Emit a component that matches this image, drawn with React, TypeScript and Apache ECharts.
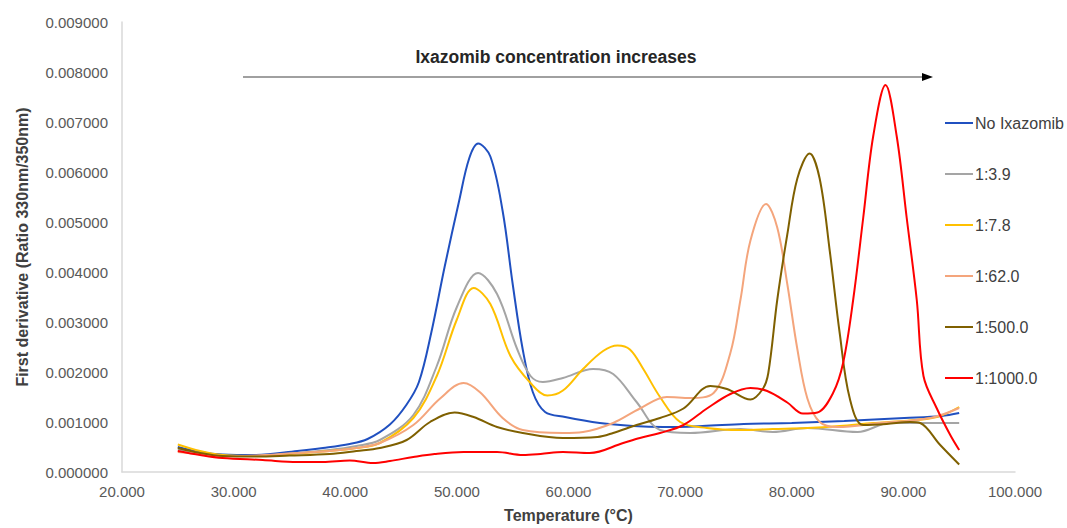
import React, { useEffect, useRef } from "react";
import * as echarts from "echarts";

const FONT = '"Liberation Sans", Arial, Helvetica, sans-serif';

const seriesNames = ["No Ixazomib", "1:3.9", "1:7.8", "1:62.0", "1:500.0", "1:1000.0"];
const seriesColors = ["#2050C0", "#A5A5A5", "#FFC000", "#F4A57C", "#7F6000", "#FF0000"];

const xTicks = [20, 30, 40, 50, 60, 70, 80, 90, 100];
const yTicks = [0, 0.001, 0.002, 0.003, 0.004, 0.005, 0.006, 0.007, 0.008, 0.009];

const noIxazomib: [number, number][] = [
  [25, 0.5e-3], [27, 0.4e-3], [29, 0.35e-3], [32, 0.34e-3], [35.7, 0.42e-3], [38, 0.48e-3],
  [40.4, 0.56e-3], [42, 0.66e-3], [44, 0.95e-3], [45.5, 1.35e-3], [46.6, 1.8e-3], [47.7, 2.78e-3],
  [48.9, 4.1e-3], [50.2, 5.42e-3], [51.1, 6.27e-3], [51.9, 6.57e-3], [53.0, 6.31e-3], [54.1, 5.22e-3],
  [55.0, 3.76e-3], [55.9, 2.45e-3], [56.8, 1.6e-3], [57.9, 1.2e-3], [59.7, 1.1e-3], [62.8, 0.98e-3],
  [65.8, 0.92e-3], [68.5, 0.9e-3], [72, 0.92e-3], [75.7, 0.96e-3], [80, 0.98e-3], [84.7, 1.02e-3],
  [90.1, 1.08e-3], [93.4, 1.12e-3], [95, 1.18e-3],
];

const ratio3_9: [number, number][] = [
  [25, 0.45e-3], [27, 0.38e-3], [29, 0.33e-3], [32, 0.32e-3], [35, 0.37e-3], [38.6, 0.44e-3],
  [41, 0.52e-3], [43.1, 0.64e-3], [46.1, 1.14e-3], [48.2, 2.12e-3], [50.0, 3.3e-3], [51.9, 3.98e-3],
  [53.6, 3.56e-3], [55.4, 2.46e-3], [56.6, 1.92e-3], [57.7, 1.8e-3], [59.5, 1.88e-3], [62.2, 2.06e-3],
  [64.0, 1.96e-3], [66.1, 1.4e-3], [68.2, 0.84e-3], [70.9, 0.78e-3], [75.4, 0.86e-3], [78.3, 0.8e-3],
  [81.4, 0.88e-3], [85.9, 0.8e-3], [88.8, 0.98e-3], [93, 0.98e-3], [95, 0.98e-3],
];

const ratio7_8: [number, number][] = [
  [25, 0.55e-3], [27, 0.42e-3], [29, 0.34e-3], [32, 0.32e-3], [35, 0.36e-3], [38.6, 0.42e-3],
  [41, 0.48e-3], [43.1, 0.58e-3], [46.1, 1.08e-3], [48.2, 1.92e-3], [50.0, 3.05e-3], [51.5, 3.68e-3],
  [53.0, 3.36e-3], [54.8, 2.32e-3], [56.6, 1.78e-3], [58.1, 1.53e-3], [59.5, 1.63e-3], [61.3, 2.06e-3],
  [63.1, 2.42e-3], [64.4, 2.53e-3], [65.5, 2.45e-3], [66.7, 2.06e-3], [68.2, 1.5e-3], [70.0, 1.0e-3],
  [72.4, 0.88e-3], [75.4, 0.84e-3], [78.3, 0.86e-3], [81.4, 0.88e-3], [84.3, 0.92e-3], [87.3, 0.98e-3],
  [90, 1.02e-3], [93, 1.1e-3], [95, 1.3e-3],
];

const ratio62_0: [number, number][] = [
  [25, 0.4e-3], [27, 0.36e-3], [29, 0.32e-3], [32, 0.33e-3], [35, 0.37e-3], [38.6, 0.42e-3],
  [41, 0.48e-3], [43.1, 0.58e-3], [46.1, 0.94e-3], [48.5, 1.47e-3], [50.6, 1.78e-3], [52.1, 1.59e-3],
  [54.1, 1.08e-3], [55.9, 0.84e-3], [59.5, 0.78e-3], [61.3, 0.8e-3], [64.0, 0.98e-3], [66.4, 1.27e-3],
  [68.8, 1.5e-3], [70.9, 1.48e-3], [73.0, 1.58e-3], [74.5, 2.38e-3], [75.4, 3.44e-3], [76.3, 4.63e-3],
  [77.7, 5.36e-3], [78.7, 4.89e-3], [79.6, 3.76e-3], [80.5, 2.46e-3], [81.4, 1.47e-3], [82.5, 1.0e-3],
  [84.1, 0.9e-3], [87.9, 0.98e-3], [92.4, 1.08e-3], [95, 1.28e-3],
];

const ratio500_0: [number, number][] = [
  [25, 0.48e-3], [27, 0.38e-3], [29, 0.32e-3], [32, 0.31e-3], [35, 0.33e-3], [38.6, 0.36e-3],
  [41, 0.42e-3], [43.1, 0.48e-3], [45.5, 0.64e-3], [47.6, 1.0e-3], [49.8, 1.19e-3], [51.5, 1.1e-3],
  [53.6, 0.9e-3], [55.9, 0.78e-3], [59.5, 0.68e-3], [62.6, 0.7e-3], [64.0, 0.78e-3], [66.1, 0.94e-3],
  [68.2, 1.08e-3], [70.3, 1.27e-3], [72.7, 1.72e-3], [74.2, 1.66e-3], [76.3, 1.45e-3], [77.4, 1.66e-3],
  [77.9, 1.98e-3], [78.7, 3.44e-3], [79.6, 4.75e-3], [80.5, 5.87e-3], [81.6, 6.37e-3], [82.5, 5.87e-3],
  [83.4, 4.43e-3], [84.3, 2.77e-3], [85.2, 1.47e-3], [86.4, 0.94e-3], [88.5, 0.96e-3], [90.6, 1.0e-3],
  [91.5, 0.98e-3], [93.3, 0.54e-3], [95, 0.15e-3],
];

const ratio1000_0: [number, number][] = [
  [25, 0.42e-3], [27, 0.34e-3], [29, 0.28e-3], [32.6, 0.24e-3], [35.7, 0.2e-3], [38, 0.2e-3],
  [40.4, 0.23e-3], [42.5, 0.18e-3], [44, 0.22e-3], [46.1, 0.3e-3], [48, 0.36e-3], [50.6, 0.4e-3],
  [53.6, 0.4e-3], [55.9, 0.34e-3], [57.5, 0.36e-3], [59.5, 0.4e-3], [61.9, 0.38e-3], [64.9, 0.58e-3],
  [66.4, 0.68e-3], [68.2, 0.78e-3], [70.3, 0.94e-3], [72.4, 1.27e-3], [74.5, 1.56e-3], [76.3, 1.68e-3],
  [77.8, 1.62e-3], [79.6, 1.39e-3], [81.0, 1.17e-3], [82.3, 1.19e-3], [83.7, 1.58e-3], [84.6, 2.18e-3],
  [85.5, 3.44e-3], [86.4, 5.08e-3], [87.3, 6.72e-3], [88.4, 7.74e-3], [89.4, 6.72e-3], [90.3, 5.08e-3],
  [91.2, 3.44e-3], [91.8, 1.92e-3], [93.0, 1.27e-3], [94.2, 0.74e-3], [95, 0.44e-3],
];

const allSeries = [noIxazomib, ratio3_9, ratio7_8, ratio62_0, ratio500_0, ratio1000_0];

const annotation = "Ixazomib concentration increases";
const xName = "Temperature (°C)";
const yName = "First derivative (Ratio 330nm/350nm)";

export default function App() {
  const ref = useRef<HTMLDivElement>(null);
  useEffect(() => {
    if (!ref.current) return;
    const chart = echarts.init(ref.current, null, { renderer: "svg" });
    chart.setOption({
      animation: false,
      backgroundColor: "#ffffff",
      textStyle: { fontFamily: FONT },
      grid: { left: 122, top: 22, right: 52, bottom: 51, containLabel: false },
      legend: {
        orient: "vertical",
        left: 940,
        top: 110,
        itemGap: 35,
        itemWidth: 28,
        itemHeight: 2,
        icon: "rect",
        data: seriesNames,
        textStyle: { color: "#404040", fontSize: 16, fontFamily: FONT, padding: [0, 0, 0, -3] },
      },
      xAxis: {
        type: "value",
        min: xTicks[0],
        max: xTicks[xTicks.length - 1],
        interval: 10,
        name: xName,
        nameLocation: "middle",
        nameGap: 35,
        nameTextStyle: { color: "#404040", fontSize: 16, fontWeight: "bold", fontFamily: FONT },
        axisLine: { show: true, lineStyle: { color: "#D9D9D9", width: 1.5 } },
        axisTick: { show: false },
        splitLine: { show: false },
        axisLabel: {
          color: "#595959",
          fontSize: 15,
          margin: 12,
          fontFamily: FONT,
          formatter: (v: number) => v.toFixed(3),
        },
      },
      yAxis: {
        type: "value",
        min: yTicks[0],
        max: yTicks[yTicks.length - 1],
        interval: 0.001,
        name: yName,
        nameLocation: "middle",
        nameGap: 92,
        nameRotate: 90,
        nameTextStyle: { color: "#404040", fontSize: 16, fontWeight: "bold", fontFamily: FONT },
        axisLine: { show: true, lineStyle: { color: "#D9D9D9", width: 1.5 } },
        axisTick: { show: false },
        splitLine: { show: false },
        axisLabel: {
          color: "#595959",
          fontSize: 15,
          margin: 14,
          fontFamily: FONT,
          formatter: (v: number) => v.toFixed(6),
        },
      },
      graphic: [
        {
          type: "text",
          x: 556,
          y: 57,
          style: {
            text: annotation,
            fill: "#262626",
            font: `bold 17.5px ${FONT}`,
            align: "center",
            verticalAlign: "middle",
          },
        },
        {
          type: "line",
          shape: { x1: 243, y1: 77, x2: 924, y2: 77 },
          style: { stroke: "#808080", lineWidth: 1.5 },
        },
        {
          type: "polygon",
          shape: { points: [[922, 73], [933, 77], [922, 81]] },
          style: { fill: "#000000" },
        },
      ],
      series: allSeries.map((d, i) => ({
        name: seriesNames[i],
        type: "line",
        data: d,
        showSymbol: false,
        symbol: "none",
        smooth: 0.35,
        lineStyle: { color: seriesColors[i], width: 2 },
        itemStyle: { color: seriesColors[i] },
      })),
    });
    return () => chart.dispose();
  }, []);
  return (
    <div
      ref={ref}
      style={{ position: "absolute", left: 0, top: 0, width: 1067, height: 528, background: "#fff" }}
    />
  );
}
